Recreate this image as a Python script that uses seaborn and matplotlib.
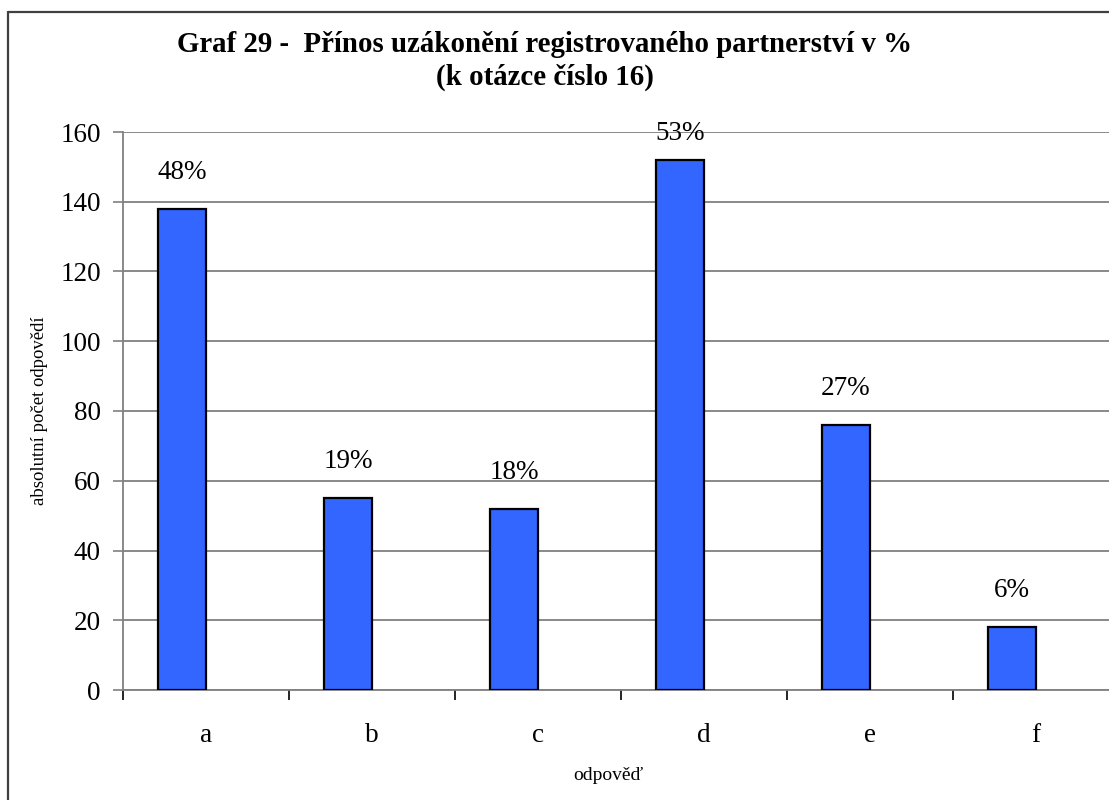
import numpy as np
import pandas as pd
import matplotlib.pyplot as plt
import seaborn as sns
from matplotlib.lines import Line2D
from matplotlib.ticker import FixedLocator

# -----------------------------
# Data
# -----------------------------
categories = ["a", "b", "c", "d", "e", "f"]
counts = [138, 55, 52, 152, 76, 18]
percent_labels = ["48%", "19%", "18%", "53%", "27%", "6%"]

TITLE = "Graf 29 -  Přínos uzákonění registrovaného partnerství v %\n(k otázce číslo 16)"
BAR_COLOR = "#3366FF"
GRID_COLOR = "#808080"
BAR_WIDTH = 0.29

# -----------------------------
# Plot
# -----------------------------
sns.set_theme(style="white")
plt.rcParams["font.family"] = ["Liberation Serif", "DejaVu Serif"]
for key in ["text.color", "axes.labelcolor", "xtick.color", "ytick.color"]:
    plt.rcParams[key] = "black"

df = pd.DataFrame({"odpoved": categories, "pocet": counts})

fig = plt.figure(figsize=(11.09, 8), dpi=100)
ax = fig.add_axes([123 / 1109, 1 - 690 / 800, 996 / 1109, 558 / 800])

sns.barplot(data=df, x="odpoved", y="pocet", color=BAR_COLOR, width=BAR_WIDTH,
            saturation=1, edgecolor="black", linewidth=1.6, ax=ax, zorder=3)

# bars sit left of the category centre (right edge on the centre)
for p in ax.patches:
    p.set_x(p.get_x() - BAR_WIDTH / 2)

# percentage labels above bars (kept inside plot area)
for i, (v, lab) in enumerate(zip(counts, percent_labels)):
    y = min(v + 10.5, 159.7)
    ax.text(i - BAR_WIDTH / 2, y, lab, ha="center", va="center", fontsize=19.5,
            color="black", zorder=4)

ax.set_ylim(0, 160)
ax.set_xlim(-0.5, 5.5)
ax.set_yticks(np.arange(0, 161, 20))
ax.yaxis.grid(True, color=GRID_COLOR, linewidth=1.3, zorder=0)
ax.xaxis.grid(False)

ax.xaxis.set_minor_locator(FixedLocator(np.arange(-0.5, 6, 1)))
ax.tick_params(axis="x", which="major", length=0, pad=24, labelsize=19.5)
ax.tick_params(axis="x", which="minor", length=7, width=1.2, color="black",
               direction="out", bottom=True)
ax.tick_params(axis="y", which="major", length=7, width=1.2, color=GRID_COLOR,
               direction="out", left=True, pad=9, labelsize=19.5)

for side in ["top", "right"]:
    ax.spines[side].set_visible(False)
for side in ["left", "bottom"]:
    ax.spines[side].set_color(GRID_COLOR)
    ax.spines[side].set_linewidth(1.3)

ax.set_xlabel("")
ax.set_ylabel("")

fig.text(40 / 1109, 1 - 411 / 800, "absolutní počet odpovědí", rotation=90,
         ha="center", va="center", fontsize=13.5)
fig.text(608 / 1109, 1 - 775 / 800, "odpověď", ha="center", va="center",
         fontsize=14)
fig.text(545 / 1109, 1 - 61 / 800, TITLE, ha="center", va="center",
         multialignment="center", fontsize=20.8, fontweight="bold",
         linespacing=1.3)

# chart frame (top and left edges, the rest is outside the picture)
fx, fy = 8 / 1109, 1 - 12 / 800
fig.add_artist(Line2D([fx, 1.1], [fy, fy], transform=fig.transFigure,
                      color="#404040", linewidth=1.6))
fig.add_artist(Line2D([fx, fx], [-0.1, fy], transform=fig.transFigure,
                      color="#404040", linewidth=1.6))

plt.savefig("out.png", dpi=100)
plt.close()
